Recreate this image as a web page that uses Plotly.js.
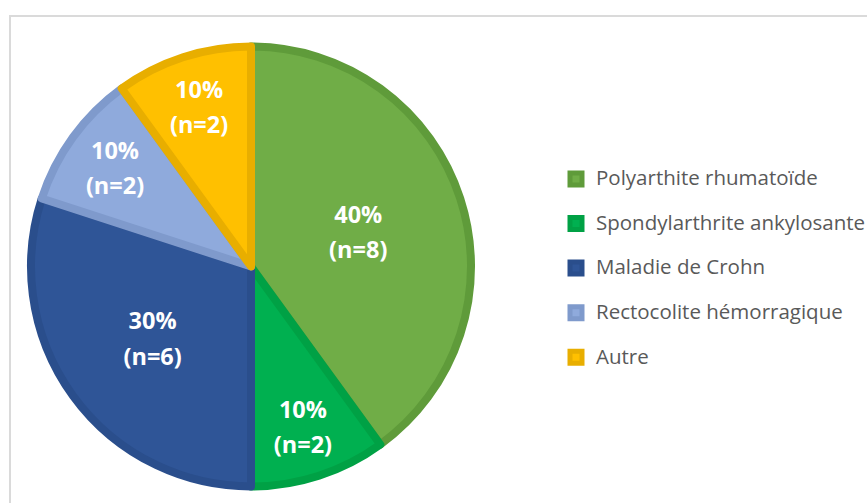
<!DOCTYPE html>
<html>
<head>
<meta charset="utf-8">
<script src="https://cdn.plot.ly/plotly-3.0.1.min.js"></script>
<style>html,body{margin:0;padding:0;background:#fff;overflow:hidden;width:867px;height:503px}#chart{width:900px;height:503px}</style>
</head>
<body>
<div id="chart"></div>
<script>
var categories = ["Polyarthite rhumatoïde", "Spondylarthrite ankylosante", "Maladie de Crohn", "Rectocolite hémorragique", "Autre"];
var counts = [8, 2, 6, 2, 2];
var fillColors = ["#70AD47", "#00B050", "#2F5597", "#8FAADC", "#FFC000"];
var borderColors = ["#5F9B3A", "#00A145", "#2A4E8C", "#7F9ACC", "#E8AE00"];

// layout is slightly wider than the 867px window so the legend overflows and is clipped like the reference
var W = 900, H = 503;
var cx = 251, cy = 266.5, R = 220;

var legendLabels = categories.map(function (c) {
  return "<span style='font-size:20.5px'>" + c + "</span><br>\u00a0";
});

var trace = {
  type: "pie",
  labels: legendLabels,
  values: counts,
  sort: false,
  direction: "clockwise",
  rotation: 0,
  marker: { colors: fillColors, line: { color: borderColors, width: 8 } },
  textposition: "inside",
  insidetextorientation: "horizontal",
  texttemplate: "<b><span style='font-size:23.5px'>%{percent:.0%}</span></b><br>\u00a0<br><b><span style='font-size:23.5px'>(n=%{value})</span></b>",
  textfont: { family: "Open Sans, sans-serif", size: 13.5, color: "#FFFFFF" },
  hoverinfo: "none",
  domain: { x: [(cx - R) / W, (cx + R) / W], y: [1 - (cy + R) / H, 1 - (cy - R) / H] }
};

var layout = {
  width: W, height: H,
  margin: { l: 0, r: 0, t: 0, b: 0 },
  paper_bgcolor: "#FFFFFF",
  showlegend: true,
  legend: {
    x: 556 / W, y: 1 - 162 / H, xanchor: "left", yanchor: "top",
    font: { family: "Open Sans, sans-serif", size: 16, color: "#595959" },
    valign: "top",
    bgcolor: "rgba(0,0,0,0)"
  },
  shapes: [{
    type: "rect", xref: "paper", yref: "paper",
    x0: 10 / W, x1: 1.05, y0: -0.05, y1: 1 - 16 / H,
    line: { color: "#DADADA", width: 2 }, fillcolor: "rgba(0,0,0,0)", layer: "below"
  }]
};

Plotly.newPlot("chart", [trace], layout, { displayModeBar: false, staticPlot: true });
</script>
</body>
</html>
